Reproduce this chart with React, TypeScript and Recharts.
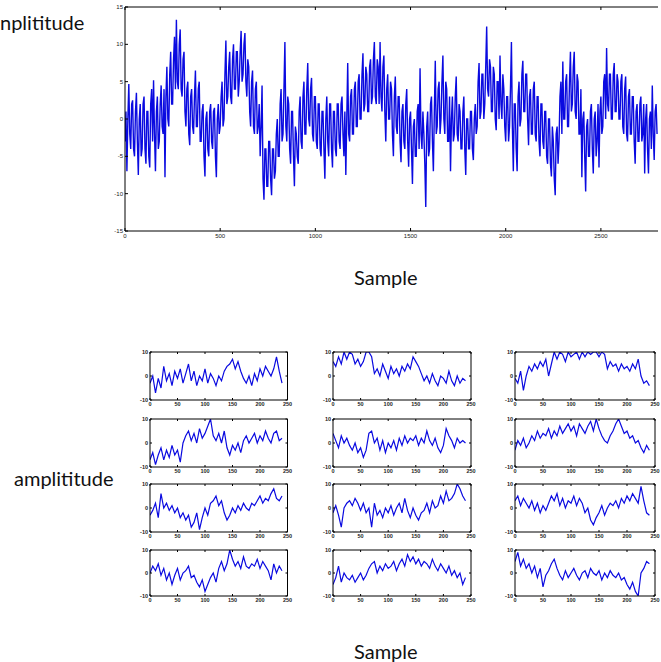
import React from "react";
import { LineChart, Line, XAxis, YAxis } from "recharts";

// ---------- main signal (one value every 5 samples) ----------
const mainStep = 5;
const mainValues = [
  -3, 1, -7, 0, 4.7, -2, -4, 2, 2.5, -4, -5, 1, 3.5, -3, -7.5, 0, 2, -5, -4, 2,
  3, -4, -6, 1, 1, -5, -6.5, 2, 4, -3, 5.2, -2, -7, 1, 3, -4, -3, 2, 4.5, -1,
  -2, 4, -7.8, 3, 7, 0, -1, 6, 9, 2, 2, 8, 11, 4, 13.3, 5, 4, 10, 12, 4,
  3, 8, 9, 1, -1, 4, 5, -2, -3.5, 3, 4, -1, -2, 3, 6.5, -1, -1, 4, 5, -3,
  -3, 1, 2, -5, -7.7, 0, 1, -4, -5, 1, 2, -3, -4, 1, 1.5, -5, -7.8, 0, 2, -2,
  -1, 3, 5, -1, 0, 6, 10.5, 2, 3, 7, 9, 3, 2, 8, 10, 4, 4, 9, 9, 3,
  5, 9, 11.8, 5, 6, 10, 11.5, 5, 3, 8, 7, 1, -1, 5, 6.5, -1, -2, 4, 5, -2,
  -1, 2, -5, -1, 4.5, -8, -10.8, -4, -4, -9, -9, -3, -3, -8, -10.2, -4, -4, -8, -7, -2,
  0, -5, -5, 2, 4, -3, -2, 4, 10.3, -1, -3, 3, 2, -4, -6, 1, 1, -5, -9, -1,
  -2, -5, -6, 1, 3, -3, -4, 3, 5, -2, -2, 4, 7.5, 0, -1, 4, 5.5, -2, -3, 3,
  3, -3, -4, 2, 2, -4, -5, 1, 1, -4, -8, 0, 3, -3, -5, 2, 2, -4, -6.5, 1,
  1, -4, -5, 2, 2, -3, -4, 2, 3, -2, -5, 1, -7.5, 0, 7.5, -2, -3, 3, 4, -2,
  -2, 4, 5, -1, -1, 5, 6, 0, 0, 6, 8.8, 1, 2, 7, 6, 1, 1, 7, 8, 2,
  3, 8, 10.3, 3, 2, 8, 7, 2, 10.3, 3, 1, 7, 8.5, 1, -3, 4, 6, 0, 0, 5,
  4, -2, -5, 3, 5.7, -1, -2, 3, 3, -3, -5.8, 1, 2, -3, -4, 2, 4, -3, -6.4, 0,
  1, -4, -8.7, -1, 0, -5, -5, 1, 2, -4, 6.8, -2, -4, 1, -2, -6, -11.8, -1, 1, -5,
  -4, 2, 3, -3, -7, 1, 7.8, -2, -1, 4, 5, -2, 0, 5, 8.5, 0, -2, 5, 4, -3,
  -3, 3, -7, 0, 3, -3, -2, 3, 5.7, -2, -3, 2, 1, -4, -4, 1, 3, -4, -7.5, 0,
  0, -4, -4, 1, 1, -4, -5.5, 0, 2, -2, -1, 5, 7.5, 0, 1, 6, 6, 0, 2, 7,
  12.4, 4, 3, 8, 7, 1, 1, 7, 6, 0, -1.5, 5, 5, 0, 8.5, 2, 0, 6, 4, -1,
  -3, 3, 3, -3, -1, 4, 10.3, -1, -7, 2, 2, -4, -7, 3, 5, -1, 0, 6, 7.8, 1,
  1, 6, 6, 0, -3.5, 3, 4, -2, -2, 4, 5, -2, -3, 3, 3, -3, -5, 2, 2, -3,
  -4, 1, 1, -5, -6, 0, 0, -6, -7.7, -1, -3, -8, -10.2, -2, -1, -6, -3, 3, 5, -2,
  7.7, 0, 0, 5, 6, -1, -1, 5, 9, 1, 2, 7, 9, 1, 0, 6, 5, -2, -2, 4,
  -7.8, 0, 1, -5, -9.7, -1, 0, -5, -5, 1, 2, -4, -7.3, 0, 1, -5, -3, 2, -6.5, 1,
  3, -2, -1, 5, 6, 0, 9.5, 2, 1, 6, 6, 0, 0, 6, 7.5, 1, 1, 6, 5, 0,
  0, 5, 6, -1, -2, 4, 5.7, -2, -3, 3, 4, -2, -2, 3, 3, -3, -6, 1, 2, -3,
  -3, 2, 3, -3, -2, 2, -7.3, 0, 2, -4, -7.3, 0, 1, -4, 4.5, -2, -5.5, 1, 2, -2,
];
const mainXTicks = [0, 500, 1000, 1500, 2000, 2500];
const mainYTicks = [-15, -10, -5, 0, 5, 10, 15];

// ---------- 12 segments (one value every 5 samples) ----------
const segStep = 5;
const seg11 = [-3, 0, -7, -1, -5, 4, -2, 1, -4, 2, -1, 3, -3, 1, 5, -2, 2, -4, 0, -2, 3, -3, 1, -1, -4, 0, -2, 2, 4, 5, 7, 3, 6, 2, -1, -3, 0, -4, 1, -2, 3, 0, 4, 2, 0, 3, 8, 2, -3];
const seg12 = [-7, -4, -9, -5, -2, -7, -3, -6, -1, -5, -3, -8, 0, 3, 5, 1, 4, 0, 6, 2, 4, 7, 10, 3, 1, 4, 0, 5, -2, -5, -1, -3, 0, -4, 1, 3, 0, 2, 4, 0, 3, 1, 5, 2, 0, 4, 5, 1, 2];
const seg13 = [-3, -1, 2, -4, 6, 0, 2, -1, 1, -2, 0, -4, -2, -5, -3, -8, -6, -2, -9, -4, 0, -3, 2, 3, 5, 1, 3, -2, -5, -3, 0, -2, 1, -1, 2, 0, -1, 2, 1, 3, 5, 2, 4, 3, 6, 8, 4, 3, 5];
const seg14 = [0, 3, 1, 4, -1, 2, -3, 0, -5, -1, 2, -3, 0, 1, 3, -2, -1, -4, -6, -3, -8, -5, -2, 0, -4, 2, 5, 1, 4, 10, 6, 3, 5, 2, 7, 3, 2, 4, 3, 6, 2, 5, 3, 1, -3, 4, 0, 3, 1];
const seg21 = [6, 4, 8, 5, 10, 7, 10, 9, 5, 7, 4, 6, 10, 10, 8, 1, 3, 0, 5, 2, -1, 4, 1, 3, 0, 4, 2, 5, 3, 8, 6, 4, 1, -2, 0, -3, 1, -2, -4, 0, -1, -3, 2, -2, -4, 0, -3, -1, -2];
const seg22 = [4, 1, -2, 3, 0, 2, -1, -3, 0, -4, -2, -6, -3, 4, 5, 0, 2, -3, 1, -4, 0, -2, 1, -3, 2, -1, 3, 0, 2, 1, 3, -1, 2, 0, 5, 1, -1, 2, -2, -4, -1, 6, 3, 1, -2, 2, 0, 1, 0];
const seg23 = [-2, 1, -3, -8, 0, 2, 3, 1, 4, 2, -1, 2, -2, 0, -8, 2, -3, -1, -4, 0, -2, 1, -3, 0, 2, -2, 4, -1, -4, 0, -3, -5, -2, -1, 2, -2, 3, 0, 1, 5, 2, 7, 3, 4, 6, 10, 8, 5, 3];
const seg24 = [-5, -2, 3, -4, 0, -2, -3, -1, -4, -2, 0, -3, -1, 2, 4, 5, 0, 3, 1, 4, 2, 3, 5, 1, 4, 6, 3, 8, 5, 7, 4, 6, 3, 5, 4, 2, 6, 3, 1, 4, 2, 0, 3, -1, 1, -2, 0, -5, -2];
const seg31 = [-1, -3, 2, -6, 0, 4, 2, 5, 3, 6, 4, 7, 0, 5, 10, 7, 10, 9, 6, 10, 8, 9, 10, 7, 10, 8, 10, 9, 10, 10, 8, 10, 9, 3, 6, 4, 5, 2, 5, 3, 4, 2, 5, 3, 7, 0, -3, -2, -4];
const seg32 = [-3, 1, -1, 2, -2, 0, 3, 1, 5, 2, 4, 3, 6, 2, 5, 3, 7, 4, 6, 8, 5, 7, 3, 8, 6, 4, 7, 9, 5, 10, 6, 3, 1, 0, 3, 5, 8, 10, 7, 4, 5, 2, 3, 0, 1, -2, -4, -1, -3];
const seg33 = [3, 5, 1, 4, 2, 0, 3, -1, 2, -2, 1, -1, 2, 5, 3, 6, 1, 4, 0, 3, 2, 5, 1, 4, 2, -2, 0, -5, -7, -4, -2, 1, -3, 0, 2, 1, 3, 0, 4, 2, 5, 3, 6, 4, 2, 9, 3, -2, -3];
const seg34 = [5, 9, 3, 6, 2, 4, 0, 3, -2, 2, -6, -1, 1, 4, 6, 2, -1, -3, 1, -2, 0, 2, -1, -3, 0, 1, -2, 2, 0, -1, 1, -3, 0, -2, 1, -1, -2, 0, -3, -2, -5, -7, -4, -8, -10, 0, 2, 5, 4];
const segXTicks = [0, 50, 100, 150, 200, 250];
const segYTicks = [-10, 0, 10];

const LINE = "#0a0ae0";
const FONT = "'Lato', 'Open Sans', sans-serif";

const toData = (vals: number[], step: number) => vals.map((v, i) => ({ x: i * step, y: v }));

type PanelProps = {
  values: number[];
  step: number;
  plotLeft: number;
  plotTop: number;
  plotW: number;
  plotH: number;
  xDomain: [number, number];
  xTicks: number[];
  yDomain: [number, number];
  yTicks: number[];
  fontSize: number;
  bold?: boolean;
  tickLen: number;
  yAxisW: number;
  xAxisH: number;
  rightAxis: boolean;
  marginRight: number;
  labelDy: number;
  lineWidth: number;
};

function Panel(p: PanelProps) {
  const data = toData(p.values, p.step);
  const mTop = 2;
  const topH = 1;
  const rightW = p.rightAxis ? 1 : 0;
  const width = p.yAxisW + p.plotW + p.marginRight + rightW;
  const height = mTop + topH + p.plotH + p.xAxisH;
  const fw = p.bold ? 700 : 400;
  const bottomTick = (t: any) => (
    <g>
      <line x1={t.x} y1={t.y} x2={t.x} y2={t.y - p.tickLen} stroke="#000" strokeWidth={1} />
      <text x={t.x} y={t.y + p.labelDy} fontSize={p.fontSize} fontWeight={fw} textAnchor="middle" fill="#222" fontFamily="Arial, 'Liberation Sans', sans-serif">
        {t.payload.value}
      </text>
    </g>
  );
  const topTick = (t: any) => (
    <line x1={t.x} y1={t.y} x2={t.x} y2={t.y + p.tickLen} stroke="#000" strokeWidth={1} />
  );
  const leftTick = (t: any) => (
    <g>
      <line x1={t.x} y1={t.y} x2={t.x + p.tickLen} y2={t.y} stroke="#000" strokeWidth={1} />
      <text x={t.x - 2} y={t.y + p.fontSize * 0.35} fontSize={p.fontSize} fontWeight={fw} textAnchor="end" fill="#222" fontFamily="Arial, 'Liberation Sans', sans-serif">
        {t.payload.value}
      </text>
    </g>
  );
  const rightTick = (t: any) => (
    <line x1={t.x} y1={t.y} x2={t.x - p.tickLen} y2={t.y} stroke="#000" strokeWidth={1} />
  );
  return (
    <div style={{ position: "absolute", left: p.plotLeft - p.yAxisW, top: p.plotTop - mTop - topH }}>
      <LineChart
        width={width}
        height={height}
        data={data}
        margin={{ top: mTop, right: p.marginRight, left: 0, bottom: 0 }}
      >
        <XAxis
          xAxisId="b"
          dataKey="x"
          type="number"
          domain={p.xDomain}
          ticks={p.xTicks}
          interval={0}
          allowDataOverflow
          height={p.xAxisH}
          tickSize={0}
          tickMargin={0}
          tickLine={false}
          axisLine={{ stroke: "#000" }}
          tick={bottomTick}
        />
        <XAxis
          xAxisId="t"
          orientation="top"
          dataKey="x"
          type="number"
          domain={p.xDomain}
          ticks={p.xTicks}
          interval={0}
          allowDataOverflow
          height={topH}
          tickSize={0}
          tickMargin={0}
          tickLine={false}
          axisLine={{ stroke: "#000" }}
          tick={topTick}
        />
        <YAxis
          yAxisId="l"
          type="number"
          domain={p.yDomain}
          ticks={p.yTicks}
          interval={0}
          allowDataOverflow
          width={p.yAxisW}
          tickSize={0}
          tickMargin={0}
          tickLine={false}
          axisLine={{ stroke: "#000" }}
          tick={leftTick}
        />
        {p.rightAxis && (
          <YAxis
            yAxisId="r"
            orientation="right"
            type="number"
            domain={p.yDomain}
            ticks={p.yTicks}
            interval={0}
            allowDataOverflow
            width={rightW}
            tickSize={0}
            tickMargin={0}
            tickLine={false}
            axisLine={{ stroke: "#000" }}
            tick={rightTick}
          />
        )}
        <Line
          xAxisId="b"
          yAxisId="l"
          dataKey="y"
          type="linear"
          stroke={LINE}
          strokeWidth={p.lineWidth}
          strokeLinejoin="miter"
          dot={false}
          activeDot={false}
          isAnimationActive={false}
        />
        <Line
          xAxisId="t"
          yAxisId={p.rightAxis ? "r" : "l"}
          dataKey="y"
          stroke="none"
          dot={false}
          activeDot={false}
          isAnimationActive={false}
        />
      </LineChart>
    </div>
  );
}

const colLefts = [149.5, 333, 515];
const colWidths = [137.5, 138, 140];
const rowTops = [352, 419, 484, 550];
const rowHeights = [48, 48, 48, 46];
const segments = [
  [seg11, seg12, seg13, seg14],
  [seg21, seg22, seg23, seg24],
  [seg31, seg32, seg33, seg34],
];

const labelStyle: React.CSSProperties = {
  position: "absolute",
  fontFamily: FONT,
  fontSize: 20,
  color: "#111",
  whiteSpace: "nowrap",
  lineHeight: "20px",
};

export default function App() {
  return (
    <div style={{ position: "absolute", left: 0, top: 0, width: 661, height: 662, background: "#fff", overflow: "hidden" }}>
      <div style={{ ...labelStyle, left: 0, top: 12 }}>nplititude</div>
      <Panel
        values={mainValues}
        step={mainStep}
        plotLeft={125}
        plotTop={7}
        plotW={533}
        plotH={224}
        xDomain={[0, 2800]}
        xTicks={mainXTicks}
        yDomain={[-15, 15]}
        yTicks={mainYTicks}
        fontSize={6}
        tickLen={3}
        yAxisW={20}
        xAxisH={12}
        rightAxis={false}
        marginRight={3}
        labelDy={6.5}
        lineWidth={1.4}
      />
      <div style={{ ...labelStyle, left: 354, top: 267 }}>Sample</div>
      <div style={{ ...labelStyle, left: 14, top: 468 }}>amplititude</div>
      {segments.map((col, ci) =>
        col.map((vals, ri) => (
          <Panel
            key={`${ci}-${ri}`}
            values={vals}
            step={segStep}
            plotLeft={colLefts[ci]}
            plotTop={rowTops[ri]}
            plotW={colWidths[ci]}
            plotH={rowHeights[ri]}
            xDomain={[0, 250]}
            xTicks={segXTicks}
            yDomain={[-10, 10]}
            yTicks={segYTicks}
            fontSize={5.5}
            bold
            tickLen={2}
            yAxisW={14}
            xAxisH={9}
            rightAxis
            marginRight={5}
            labelDy={6}
            lineWidth={1.2}
          />
        ))
      )}
      <div style={{ ...labelStyle, left: 354, top: 641 }}>Sample</div>
    </div>
  );
}
